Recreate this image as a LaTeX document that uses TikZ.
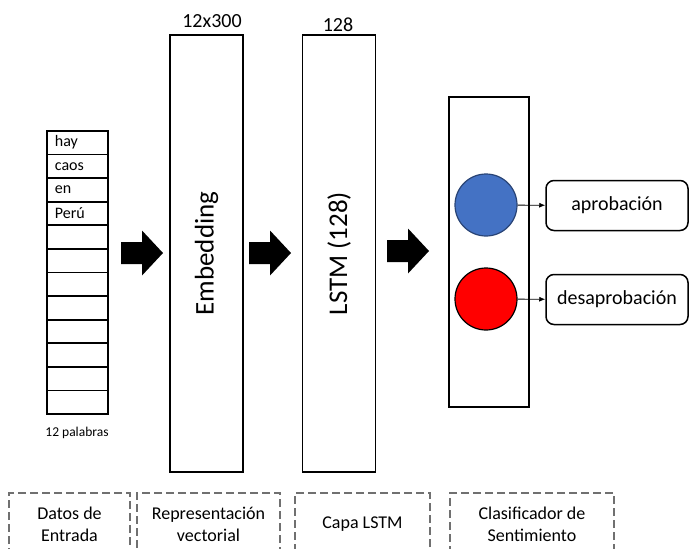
\documentclass[tikz,border=0pt]{standalone}
\usepackage{fontspec}
\setmainfont{Carlito}
\usetikzlibrary{arrows.meta,positioning}

\definecolor{azul}{HTML}{4472C4}
\definecolor{rojo}{HTML}{FF0000}
\definecolor{grisdash}{HTML}{707070}

\begin{document}
\begin{tikzpicture}[x=1pt,y=-1pt]

      \clip (0,0) rectangle (689,549);
      \useasboundingbox (0,0) rectangle (689,549);

      % palabras de entrada
      \begin{scope}[every node/.style={draw, line width=1.8, anchor=north west, minimum width=61, minimum height=23.6,
          text width=45, inner xsep=8, inner ysep=0, align=left, font=\fontsize{16}{16}\selectfont}]
        \foreach \w [count=\i] in {hay,caos,en,Perú,{},{},{},{},{},{},{},{}}
          \node (w\i) at (46,{130+(\i-1)*23.6}) {\w};
      \end{scope}
      \node[font=\fontsize{13.5}{13.5}\selectfont] (npal) at (77,433) {12 palabras};

      % capas
      \begin{scope}[every node/.style={draw, line width=1.8, rotate=90, minimum width=437, minimum height=73,
          inner sep=0, font=\fontsize{27}{27}\selectfont}]
        \node (emb)  at (206.5,253.5) {Embedding};
        \node (lstm) at (339,253.5)   {LSTM (128)};
      \end{scope}
      \node[font=\fontsize{20}{20}\selectfont] (demb)  at (212,21) {12x300};
      \node[font=\fontsize{20}{20}\selectfont] (dlstm) at (338,25) {128};

      % flechas gruesas
      \foreach \x/\y in {121/253, 249/253, 387/251}
        \fill (\x,\y-11) -- ++(21,0) -- ++(0,-11.5) -- ++(21,22.5) -- ++(-21,22.5) -- ++(0,-11.5) -- ++(-21,0) -- cycle;

      % clasificador
      \node[draw, line width=1.5, minimum width=80, minimum height=310, inner sep=0] (clf) at (489,252) {};
      \begin{scope}[every node/.style={circle, draw, line width=1.2, minimum size=62, inner sep=0}]
        \node[fill=azul, draw=azul!60!black] (pos) at (486,205) {};
        \node[fill=rojo] (neg) at (486,299) {};
      \end{scope}

      \begin{scope}[every node/.style={draw, rounded corners=8, line width=1.5, minimum width=142, minimum height=50,
          font=\fontsize{20}{20}\selectfont}]
        \node (apr) at (617,205.5) {aprobación};
        \node (des) at (617,299.5) {desaprobación};
      \end{scope}
      \path[-{Latex[length=6pt,width=5pt]}, line width=0.8] (pos) edge (apr);
      \path[-{Latex[length=6pt,width=5pt]}, line width=0.8] (neg) edge (des);

      % cajas punteadas
      \begin{scope}[every node/.style={draw=grisdash, dash pattern=on 8pt off 4pt, line width=1.5, minimum height=63,
          inner sep=0, align=center, font=\fontsize{18}{22}\selectfont}]
        \node[minimum width=121] (datos) at (69.5,524.5)  {Datos de\\Entrada};
        \node[minimum width=143] (repr)  at (208.5,524.5) {Representación\\vectorial};
        \node[minimum width=135] (capa)  at (362.5,524.5) {Capa LSTM};
        \node[minimum width=164] (clas)  at (532,524.5)   {Clasificador de\\Sentimiento};
      \end{scope}

    \end{tikzpicture}
\end{document}
